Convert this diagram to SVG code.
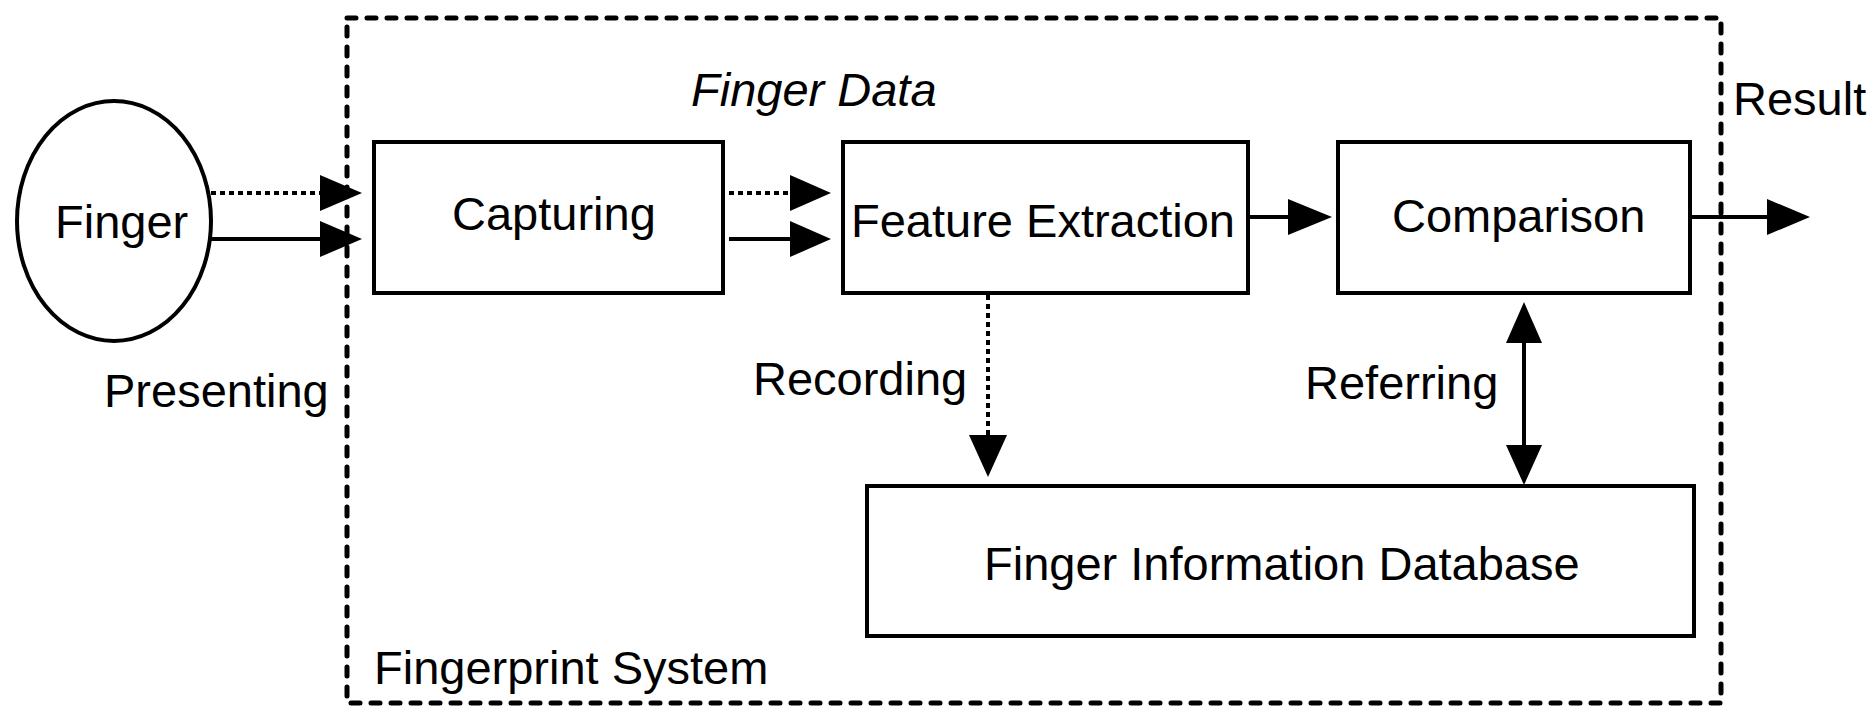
<svg xmlns="http://www.w3.org/2000/svg" width="1874" height="706" viewBox="0 0 1874 706">
<style>
text{font-family:"Liberation Sans",Arial,sans-serif;font-size:47px;fill:#000}
.box{fill:#fff;stroke:#000;stroke-width:4}
.frame{fill:none;stroke:#000;stroke-width:5;stroke-dasharray:9 11;stroke-linecap:round}
.solid{stroke:#000;stroke-width:4;fill:none}
.dot{stroke:#000;stroke-width:4;fill:none;stroke-dasharray:5 4}
.head{fill:#000}
</style>
<rect width="1874" height="706" fill="#fff"/>
<g id="system">
<rect class="frame" x="347" y="18" width="1374" height="685"/>
<text x="374" y="684">Fingerprint System</text>
</g>
<g id="finger">
<ellipse cx="114" cy="221" rx="97" ry="120" fill="#fff" stroke="#000" stroke-width="4"/>
<text x="55" y="238">Finger</text>
</g>
<g id="capturing">
<rect class="box" x="374" y="142" width="349" height="151"/>
<text x="452" y="230">Capturing</text>
</g>
<g id="feature">
<rect class="box" x="843" y="142" width="405" height="151"/>
<text x="851" y="237">Feature Extraction</text>
</g>
<g id="comparison">
<rect class="box" x="1338" y="142" width="352" height="151"/>
<text x="1392" y="232">Comparison</text>
</g>
<g id="database">
<rect class="box" x="867" y="486" width="827" height="150"/>
<text x="984" y="580">Finger Information Database</text>
</g>
<g id="connectors">
<line class="dot" x1="211" y1="193" x2="322" y2="193"/>
<polygon class="head" points="320,175 362,193 320,211"/>
<line class="solid" x1="211" y1="239" x2="322" y2="239"/>
<polygon class="head" points="320,221 362,239 320,257"/>
<line class="dot" x1="729" y1="193" x2="792" y2="193"/>
<polygon class="head" points="790,175 831,193 790,211"/>
<line class="solid" x1="729" y1="239" x2="792" y2="239"/>
<polygon class="head" points="790,221 831,239 790,257"/>
<line class="solid" x1="1248" y1="217" x2="1290" y2="217"/>
<polygon class="head" points="1288,199 1332,217 1288,235"/>
<line class="solid" x1="1690" y1="217" x2="1769" y2="217"/>
<polygon class="head" points="1767,199 1810,217 1767,235"/>
<line class="dot" x1="988" y1="295" x2="988" y2="437"/>
<polygon class="head" points="969,435 1007,435 988,477"/>
<line class="solid" x1="1524" y1="341" x2="1524" y2="447"/>
<polygon class="head" points="1506,343 1542,343 1524,302"/>
<polygon class="head" points="1506,445 1542,445 1524,485"/>
<text x="1733" y="115">Result</text>
<text x="691" y="106" font-style="italic">Finger Data</text>
<text x="104" y="407">Presenting</text>
<text x="753" y="395">Recording</text>
<text x="1305" y="399">Referring</text>
</g>
</svg>
